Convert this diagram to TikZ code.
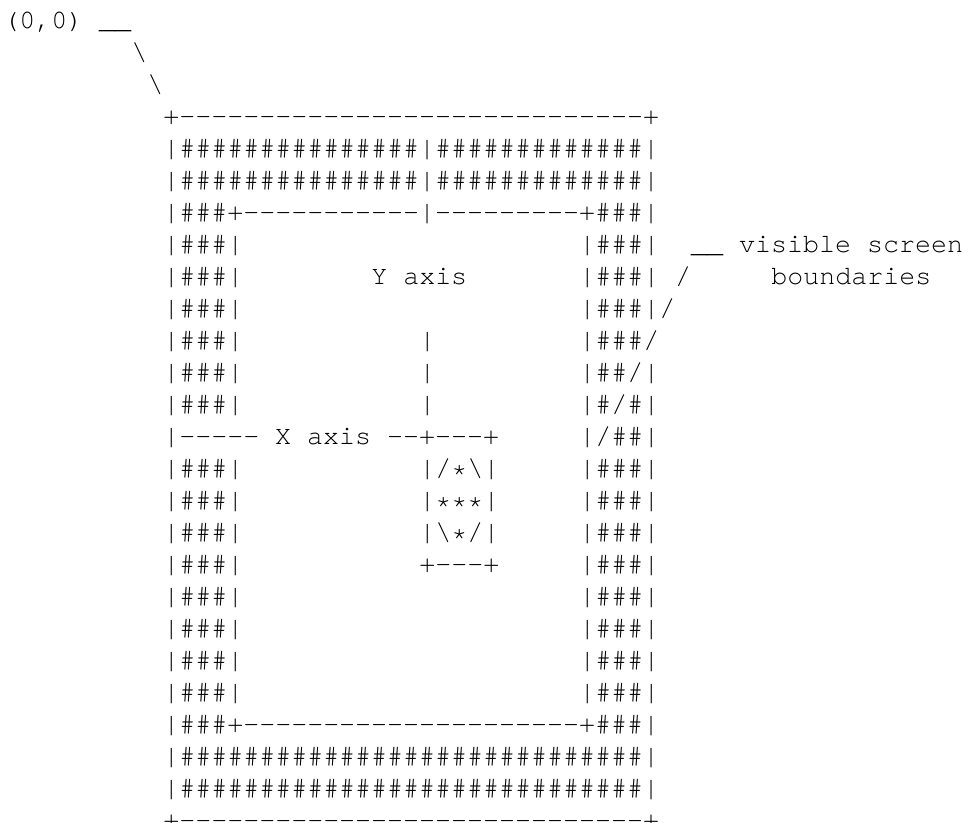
\documentclass[tikz,border=0pt]{standalone}
\usepackage{fontspec}
\setmonofont{texgyrecursor-regular.otf}
\usepackage{tikz}
\ExplSyntaxOn
\NewExpandableDocumentCommand{\rep}{mm}{\prg_replicate:nn{#1}{#2}}
\ExplSyntaxOff
\newcommand{\st}{\raisebox{-0.18em}{*}}
\frenchspacing

\begin{document}
\begin{tikzpicture}[
  x=16pt,y=-32pt,
  ascii/.style={anchor=base west,inner sep=0pt,outer sep=0pt,
                font=\ttfamily\fontsize{26.66}{32}\selectfont}
]
\useasboundingbox (-0.206,-0.897) rectangle (59.92,24.82);
% pointer to the origin
\node[ascii] (origin) at (0,0) {(0,0)~\_\_};
\node[ascii] (tick1) at (8,1) {\textbackslash};
\node[ascii] (tick2) at (9,2) {\textbackslash};
% outer frame, top
\node[ascii] (top) at (10,3) {+\rep{29}{-}+};
\node[ascii] (band1) at (10,4) {|\rep{15}{\#}|\rep{13}{\#}|};
\node[ascii] (band2) at (10,5) {|\rep{15}{\#}|\rep{13}{\#}|};
\node[ascii] (inner) at (10,6) {|\#\#\#+\rep{11}{-}|\rep{9}{-}+\#\#\#|};
% side bands
\foreach \r in {7,...,12,14,15,...,21}
  \node[ascii] (left\r) at (10,\r) {|\#\#\#|};
\foreach \r in {14,...,21}
  \node[ascii] (right\r) at (36,\r) {|\#\#\#|};
\node[ascii] (right7) at (36,7) {|\#\#\#|~~\_\_~visible~screen};
\node[ascii] (right8) at (36,8) {|\#\#\#|~/};
\node[ascii] (label) at (48,8) {boundaries};
\node[ascii] (right9) at (36,9) {|\#\#\#|/};
\node[ascii] (right10) at (36,10) {|\#\#\#/};
\node[ascii] (right11) at (36,11) {|\#\#/|};
\node[ascii] (right12) at (36,12) {|\#/\#|};
\node[ascii] (right13) at (36,13) {|/\#\#|};
% axes
\node[ascii] (yaxis) at (23,8) {Y~axis};
\foreach \r in {10,11,12}
  \node[ascii] (ybar\r) at (26,\r) {|};
\node[ascii] (xaxis) at (10,13) {|-----~X~axis~--+---+};
% sprite
\node[ascii] (sprite1) at (26,14) {|/\st\textbackslash|};
\node[ascii] (sprite2) at (26,15) {|\st\st\st|};
\node[ascii] (sprite3) at (26,16) {|\textbackslash\st/|};
\node[ascii] (sprite4) at (26,17) {+---+};
% outer frame, bottom
\node[ascii] (inner2) at (10,22) {|\#\#\#+\rep{21}{-}+\#\#\#|};
\node[ascii] (band3) at (10,23) {|\rep{29}{\#}|};
\node[ascii] (band4) at (10,24) {|\rep{29}{\#}|};
\node[ascii] (bottom) at (10,25) {+\rep{29}{-}+};
\end{tikzpicture}
\end{document}
